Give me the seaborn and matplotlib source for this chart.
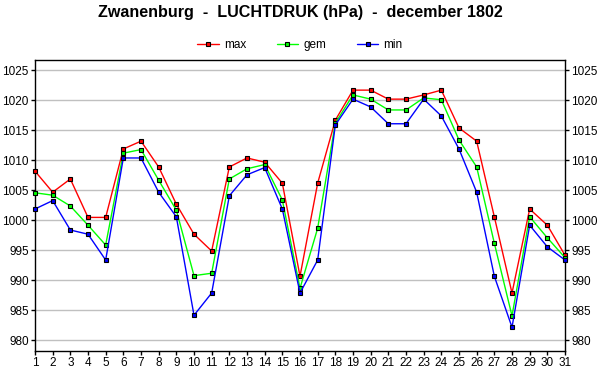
import matplotlib
matplotlib.use('Agg')
import matplotlib.pyplot as plt
import numpy as np
import pandas as pd
import seaborn as sns

days = list(range(1, 32))
p_max = [1008.2, 1004.7, 1006.9, 1000.5, 1000.5, 1011.9, 1013.2, 1008.9, 1002.7, 997.7,
         994.9, 1008.9, 1010.4, 1009.7, 1006.2, 990.7, 1006.2, 1016.7, 1021.7, 1021.7,
         1020.2, 1020.2, 1020.9, 1021.7, 1015.4, 1013.2, 1000.6, 987.9, 1001.9, 999.2, 994.2]
p_gem = [1004.6, 1004.2, 1002.4, 999.2, 995.9, 1011.2, 1011.8, 1006.7, 1001.7, 990.8,
         991.2, 1006.9, 1008.6, 1009.3, 1003.4, 988.7, 998.7, 1016.2, 1020.9, 1020.2,
         1018.4, 1018.4, 1020.4, 1020.1, 1013.4, 1008.9, 996.2, 984.1, 1000.6, 997.1, 993.8]
p_min = [1001.9, 1003.3, 998.4, 997.7, 993.4, 1010.4, 1010.4, 1004.7, 1000.6, 984.2,
         987.9, 1004.1, 1007.6, 1008.8, 1001.9, 987.9, 993.4, 1015.9, 1020.2, 1018.9,
         1016.1, 1016.1, 1020.2, 1017.4, 1011.9, 1004.7, 990.7, 982.2, 999.2, 995.6, 993.4]
y_ticks = list(range(980, 1030, 5))

series = [('max', p_max, '#ff0000'), ('gem', p_gem, '#00ff00'), ('min', p_min, '#0000ff')]

sns.set_style('white')
plt.rcParams['font.family'] = ['Liberation Sans', 'DejaVu Sans']
plt.rcParams['text.color'] = 'black'
plt.rcParams['xtick.color'] = 'black'
plt.rcParams['ytick.color'] = 'black'

fig = plt.figure(figsize=(6, 3.9), dpi=100)
ax = fig.add_axes([35 / 600, 1 - 350.5 / 390, 530 / 600, 290.2 / 390])

for name, vals, color in series:
    df = pd.DataFrame({'dag': days, 'p': vals})
    sns.lineplot(data=df, x='dag', y='p', color=color, marker='s', markersize=3.0,
                 markeredgecolor='black', markeredgewidth=0.8, linewidth=1.0,
                 label=name, ax=ax, clip_on=False, zorder=3)

ax.set_xlim(1, 31)
ax.set_ylim(978.33, 1026.67)
ax.set_xticks(days)
ax.set_yticks(y_ticks)
ax.set_xlabel('')
ax.set_ylabel('')
ax.yaxis.grid(True, color='#c0c0c0', linewidth=1.0)
ax.set_axisbelow(True)
for s in ax.spines.values():
    s.set_color('black')
    s.set_linewidth(1.0)
ax.tick_params(axis='both', direction='out', length=3, width=1, color='black',
               labelcolor='black', labelsize=8.5, pad=1.5, left=True, bottom=True)

ax2 = ax.twinx()
ax2.set_ylim(ax.get_ylim())
ax2.set_yticks(y_ticks)
ax2.tick_params(axis='y', direction='out', length=3, width=1, color='black',
                labelcolor='black', labelsize=8.5, pad=1.5, right=True)
for s in ax2.spines.values():
    s.set_visible(False)

handles, labels = ax.get_legend_handles_labels()
ax.legend(handles, labels, loc='center', bbox_to_anchor=(0.5, 1 - 45 / 390),
          bbox_transform=fig.transFigure, ncol=3, frameon=False, fontsize=8.5,
          handlelength=1.8, columnspacing=2.6, handletextpad=0.45)

fig.text(0.5, 1 - 13 / 390, 'Zwanenburg  -  LUCHTDRUK (hPa)  -  december 1802',
         ha='center', va='center', fontsize=11.6, fontweight='bold', color='black')

fig.savefig('out.png', dpi=100)
